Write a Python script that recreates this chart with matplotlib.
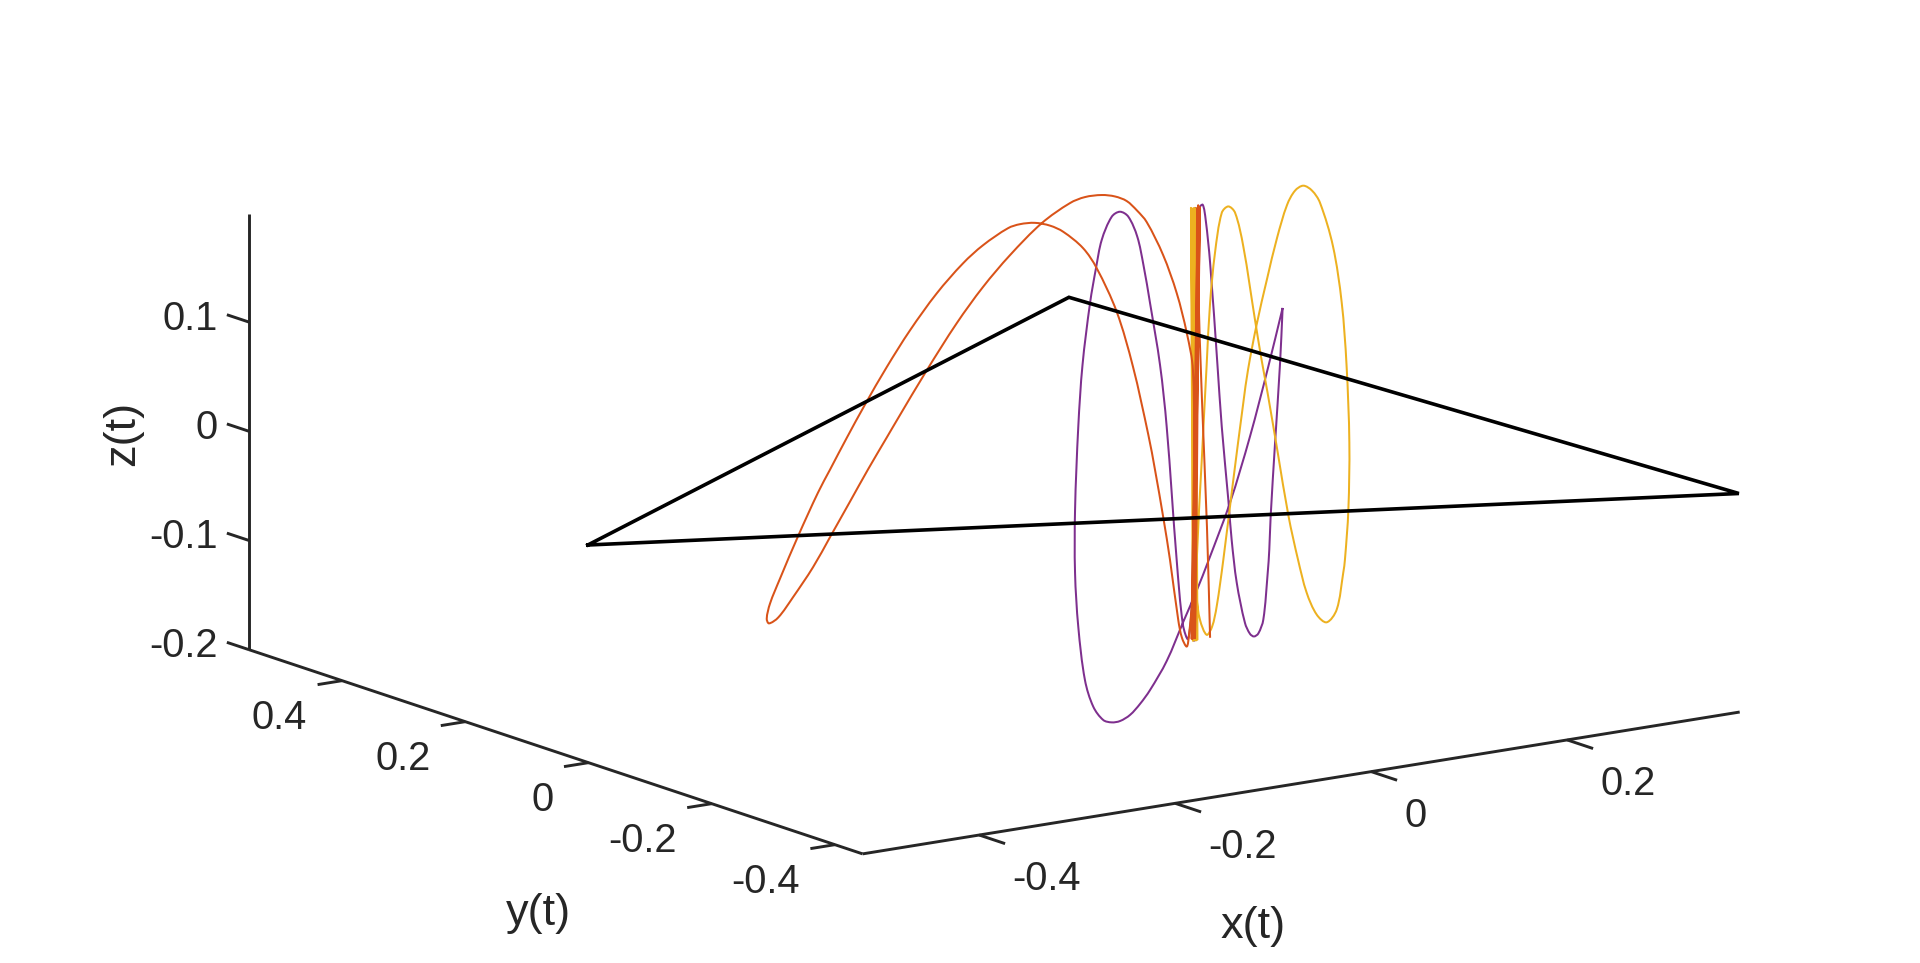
import numpy as np
import matplotlib
matplotlib.use("Agg")
import matplotlib.pyplot as plt
from matplotlib.path import Path
from matplotlib.patches import PathPatch

plt.rcParams['font.family'] = ['Liberation Sans', 'DejaVu Sans']

# Axis ranges and ticks
x_lim = (-0.519, 0.376)
y_lim = (-0.445, 0.551)
z_lim = (-0.2, 0.199)
x_ticks = [-0.4, -0.2, 0, 0.2]
y_ticks = [-0.4, -0.2, 0, 0.2, 0.4]
z_ticks = [-0.2, -0.1, 0, 0.1]
x_tick_labels = ['-0.4', '-0.2', '0', '0.2']
y_tick_labels = ['-0.4', '-0.2', '0', '0.2', '0.4']
z_tick_labels = ['-0.2', '-0.1', '0', '0.1']

# Triangle
tri_x = [-0.5210, 0.3205, 0.3757, -0.5210]
tri_y = [-0.0021, 0.5556, -0.4441, -0.0021]
tri_z = [0, 0, 0, 0]

# Orbits (traced in the plane y = 0)
red_x = [.1153, .1121, .1070, .1030, .1020, .1014, .0999, .0965, .0938, .0915, .0866, .0828, .0744, .0676, .0591, .0523,
         .0366, .0200, -.0005, -.0144, -.0345, -.0480, -.0634, -.0787, -.0909, -.1164, -.1368, -.1636, -.1909, -.2147,
         -.2368, -.2555, -.2725, -.2848, -.3049, -.3236, -.3338, -.3371, -.3348, -.3253, -.3103, -.2899, -.2725, -.2521,
         -.2335, -.2147, -.2045, -.1738, -.1433, -.1164, -.0889, -.0565, -.0277, -.0124, .0047, .0183, .0302, .0407, .0506,
         .0673, .0812, .0915, .0978, .0994, .0999, .1025, .1030, .0965, .1040, .0975, .1050, .0985]
red_z = [-.1777, -.0756, .0414, .1518, .2179, .0422, -.1041, -.1464, -.1719, -.1823, -.1736, -.1566, -.1005, -.0610,
         -.0158, .0172, .0820, .1347, .1777, .1980, .2158, .2234, .2282, .2292, .2273, .2154, .2018, .1782, .1483, .1180,
         .0870, .0591, .0326, .0133, -.0232, -.0599, -.0813, -.0945, -.0992, -.0951, -.0788, -.0543, -.0292, .0004,
         .0275, .0535, .0676, .1092, .1478, .1772, .2023, .2269, .2411, .2444, .2438, .2405, .2346, .2244, .2124,
         .1799, .1430, .1049, .0701, -.0493, -.1758, .0420, .2178, -.1760, .2180, -.1760, .2180, -.1760]

yellow_x = [.1024, .0999, .1014, .0989, .1003, .0979,
            .0978, .0968, .0958, .0973, .0989, .1017, .1050, .1118, .1173, .1220, .1288, .1386, .1492, .1540, .1627, .1734,
            .1836, .1938, .2019, .2104, .2193, .2274, .2407, .2496, .2545, .2574, .2564, .2529, .2512, .2445, .2343, .2241,
            .2138, .2050, .1953, .1843, .1739, .1678, .1611, .1492, .1408, .1339, .1272, .1203, .1153, .1118, .1068, .1017, .0999]
yellow_z = [-.1780, .2180, -.1780, .2180, -.1780, .2180,
            -.1780, .0429, .2188, .0886, -.0307, -.1380, -.1598, -.1745, -.1679, -.1501, -.1082, -.0392, .0326, .0621,
            .1018, .1424, .1785, .2072, .2191, .2225, .2167, .2045, .1626, .1098, .0523, -.0195, -.0808, -.1261, -.1377, -.1706,
            -.1808, -.1723, -.1506, -.1191, -.0778, -.0180, .0384, .0694, .1069, .1757, .2078, .2146, .2097, .1741, .1290,
            .0727, -.0136, -.1044, -.1783]

purple_x = [.1893, .1866, .1816, .1771, .1757, .1741, .1696, .1645, .1601, .1560, .1509, .1425, .1373, .1339, .1272, .1228, .1153, .1108,
            .1078, .1043, .1017, .0999, .0989, .0994, .0999, .0989, .0968, .0928, .0876, .0812, .0710, .0642, .0540, .0473, .0410,
            .0318, .0233, .0149, .0047, -.0011, -.0072, -.0149, -.0192, -.0225, -.0225, -.0192, -.0124, -.0039, .0063, .0149, .0234,
            .0336, .0438, .0540, .0710, .0879, .1017, .1134, .1356, .1560, .1744, .1893]
purple_z = [.1136, .0620, -.0087, -.0755, -.1058, -.1267, -.1690, -.1809, -.1830, -.1800, -.1693, -.1313, -.0912, -.0540, .0140, .0712,
            .1657, .2057, .2199, .2176, .1917, .0424, -.1781, .0425, .2182, .0426, -.1403, -.1755, -.1619, -.1015, .0221,
            .0796, .1378, .1735, .2004, .2201, .2258, .2224, .2026, .1778, .1466, .0909, .0351, -.0408, -.0984, -.1481, -.1979, -.2235,
            -.2372, -.2406, -.2406, -.2365, -.2279, -.2167, -.1926, -.1592, -.1323, -.1074, -.0570, .0007, .0610, .1136]


def project(x, y, z):
    """Orthographic view of the 3D data, in figure pixels."""
    x, y, z = np.asarray(x, float), np.asarray(y, float), np.asarray(z, float)
    return 1097.1 + 980.0 * x - 616.0 * y, 462.0 - 158.5 * x - 205.0 * y - 1092.0 * z


def smooth_path(sx, sy):
    """Bezier path through the points, so that the line is drawn without visible corners."""
    p = np.column_stack([sx, sy])
    d = np.hypot(*np.diff(p, axis=0).T)
    m = np.zeros_like(p)
    m[0] = (p[1] - p[0]) / d[0]
    m[-1] = (p[-1] - p[-2]) / d[-1]
    m[1:-1] = (p[2:] - p[:-2]) / (d[1:] + d[:-1])[:, None]
    verts = [p[0]]
    codes = [Path.MOVETO]
    for i, di in enumerate(d):
        verts += [p[i] + m[i] * di / 3, p[i + 1] - m[i + 1] * di / 3, p[i + 1]]
        codes += [Path.CURVE4] * 3
    return Path(verts, codes)


fig = plt.figure(figsize=(19.2, 9.63), dpi=100, facecolor='white')
ax = fig.add_axes([0, 0, 1, 1])
ax.set_xlim(0, 1920)
ax.set_ylim(963, 0)
ax.axis('off')

AX = '#262626'
line = dict(color=AX, lw=2.1, solid_capstyle='butt', zorder=2)

# axis lines
for p0, p1 in [((x_lim[0], y_lim[0], z_lim[0]), (x_lim[1], y_lim[0], z_lim[0])),
               ((x_lim[0], y_lim[0], z_lim[0]), (x_lim[0], y_lim[1], z_lim[0])),
               ((x_lim[0], y_lim[1], z_lim[0]), (x_lim[0], y_lim[1], z_lim[1]))]:
    sx, sy = project(*zip(p0, p1))
    ax.plot(sx, sy, **line)

fs, fl = 28.7, 32.5
# x ticks
for v, s in zip(x_ticks, x_tick_labels):
    sx, sy = project([v, v], [y_lim[0], y_lim[0] - 0.042], [z_lim[0]] * 2)
    ax.plot(sx, sy, **line)
    ax.text(sx[0] + 33, sy[0] + 44, s, ha='left', va='center', fontsize=fs, color=AX)
# y ticks
for v, s in zip(y_ticks, y_tick_labels):
    sx, sy = project([x_lim[0], x_lim[0] - 0.025], [v, v], [z_lim[0]] * 2)
    ax.plot(sx, sy, **line)
    ax.text(sx[0] - 35, sy[0] + 37.5, s, ha='right', va='center', fontsize=fs, color=AX)
# z ticks
for v, s in zip(z_ticks, z_tick_labels):
    sx, sy = project([x_lim[0]] * 2, [y_lim[1], y_lim[1] + 0.036], [v, v])
    ax.plot(sx, sy, **line)
    ax.text(217.5, sy[0] - 3.5, s, ha='right', va='center', fontsize=fs, color=AX)

ax.text(1253, 926.7, 'x(t)', ha='center', va='center', fontsize=fl, color=AX)
ax.text(538.5, 914, 'y(t)', ha='center', va='center', fontsize=fl, color=AX)
ax.text(123, 433, 'z(t)', ha='center', va='center', rotation=90, fontsize=fl, color=AX)

for cx, cz, col, zo in [(purple_x, purple_z, '#7E2F8E', 3), (yellow_x, yellow_z, '#EDB120', 4), (red_x, red_z, '#D95319', 5)]:
    sx, sy = project(cx, np.zeros(len(cx)), cz)
    ax.add_patch(PathPatch(smooth_path(sx, sy), fill=False, edgecolor=col, lw=1.45, capstyle='butt',
                           joinstyle='round', zorder=zo))

sx, sy = project(tri_x, tri_y, tri_z)
ax.plot(sx, sy, color='black', lw=2.6, solid_joinstyle='miter', zorder=6)

fig.savefig('out.png', dpi=100, facecolor='white')
